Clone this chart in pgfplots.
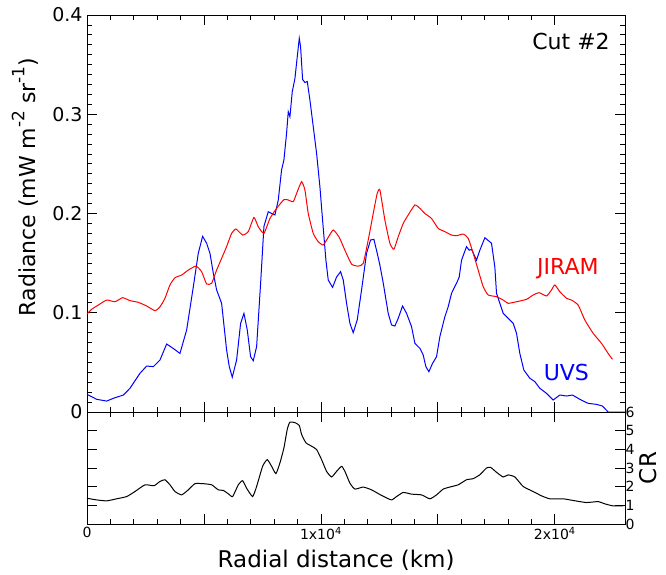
\documentclass[border=0pt]{standalone}
\usepackage{pgfplots}
\pgfplotsset{compat=1.18}
\usepackage{fontspec}
\setmainfont{DejaVu Sans}

\newcommand{\upexp}[1]{\raisebox{0.5em}{\fontsize{17}{17}\selectfont #1}}

\pgfplotsset{
  panel/.style={
    scale only axis, anchor=south west, width=538pt,
    xmin=0, xmax=23000, clip=false,
    scaled x ticks=false, scaled y ticks=false,
    axis line style={line width=0.9pt},
    every tick/.style={black, line width=0.8pt},
    major tick length=10pt, minor tick length=5pt,
    /pgf/number format/assume math mode=true,
  },
}

\begin{document}
\begin{tikzpicture}[x=1pt,y=1pt]
\path[use as bounding box] (0,0) rectangle (666,574);

% upper panel: radiance
\begin{axis}[panel,
  at={(87pt,162pt)}, height=397pt,
  ymin=0, ymax=0.4,
  xtick={0,5000,10000,15000,20000}, xticklabels={}, minor x tick num=4,
  ytick={0,0.1,0.2,0.3,0.4}, yticklabels={0,0.1,0.2,0.3,0.4},
  minor y tick num=9,
  yticklabel style={font=\fontsize{19}{21}\selectfont, xshift=-1pt},
]
\addplot[blue, line width=1pt] coordinates {(0,0.0178)(414,0.0128)(841,0.011)(1125,0.0138)(1553,0.0171)(1838,0.0239)(2265,0.039)(2550,0.0463)(2835,0.0457)(3120,0.0524)(3405,0.0685)(3690,0.064)(3974,0.059)(4260,0.0826)(4544,0.126)(4758,0.16)(4943,0.177)(5114,0.17)(5256,0.16)(5399,0.14)(5541,0.123)(5755,0.1095)(5968,0.0625)(6083,0.0457)(6211,0.035)(6396,0.0524)(6567,0.0893)(6709,0.0994)(6852,0.0826)(6994,0.0557)(7108,0.0517)(7251,0.0658)(7422,0.1297)(7564,0.187)(7749,0.2018)(7892,0.20)(8034,0.1985)(8177,0.2136)(8319,0.244)(8419,0.254)(8533,0.281)(8604,0.3026)(8675,0.2975)(8775,0.3227)(8889,0.336)(8989,0.358)(9075,0.3765)(9131,0.368)(9217,0.335)(9316,0.332)(9416,0.333)(9530,0.3144)(9672,0.2875)(9815,0.2606)(9957,0.227)(10071,0.1934)(10214,0.153)(10313,0.133)(10499,0.1256)(10670,0.136)(10840,0.1414)(10955,0.133)(11097,0.1095)(11239,0.0894)(11381,0.0799)(11552,0.0927)(11738,0.123)(11952,0.16)(12123,0.1733)(12265,0.174)(12407,0.16)(12521,0.148)(12664,0.13)(12877,0.0994)(13020,0.0877)(13162,0.0866)(13305,0.0944)(13490,0.1068)(13661,0.0994)(13875,0.086)(14017,0.0692)(14231,0.0641)(14373,0.0574)(14487,0.0457)(14615,0.0406)(14772,0.049)(14943,0.0557)(15085,0.0759)(15299,0.096)(15441,0.106)(15584,0.1196)(15798,0.1297)(15912,0.136)(16012,0.153)(16225,0.1666)(16339,0.163)(16439,0.1639)(16652,0.153)(16795,0.163)(17009,0.1756)(17293,0.17)(17436,0.146)(17507,0.1196)(17650,0.1095)(17792,0.0994)(18006,0.0944)(18219,0.0894)(18362,0.0793)(18504,0.059)(18675,0.0423)(18932,0.034)(19145,0.0306)(19359,0.0239)(19644,0.0188)(19929,0.0121)(20214,0.0171)(20499,0.0161)(20755,0.0171)(21068,0.0128)(21424,0.0087)(21781,0.0077)(22037,0.006)(22279,0)(23000,0)};
\addplot[red, line width=1pt, smooth, tension=0.3] coordinates {(0,0.0987)(200,0.1035)(485,0.1078)(841,0.1128)(1197,0.1111)(1525,0.1152)(1838,0.1122)(2194,0.1105)(2550,0.1068)(2906,0.1021)(3120,0.106)(3333,0.1146)(3547,0.128)(3761,0.1353)(4046,0.138)(4330,0.143)(4658,0.147)(4900,0.1414)(5114,0.129)(5328,0.1297)(5541,0.143)(5755,0.1548)(5968,0.1666)(6182,0.18)(6368,0.1844)(6652,0.1783)(6894,0.1817)(7137,0.196)(7322,0.1867)(7564,0.18)(7821,0.195)(8106,0.2052)(8419,0.214)(8604,0.2136)(8818,0.212)(8989,0.222)(9174,0.232)(9316,0.2237)(9459,0.2)(9672,0.18)(9886,0.1716)(10100,0.1683)(10313,0.176)(10527,0.1834)(10783,0.176)(11026,0.163)(11311,0.149)(11595,0.147)(11809,0.1498)(12023,0.1733)(12236,0.2)(12407,0.2203)(12521,0.2237)(12735,0.1934)(12949,0.17)(13120,0.164)(13305,0.1766)(13519,0.19)(13732,0.1985)(14017,0.2086)(14231,0.2052)(14444,0.2)(14729,0.195)(15014,0.185)(15299,0.1817)(15584,0.1783)(15798,0.1776)(16083,0.1793)(16296,0.175)(16510,0.16)(16724,0.143)(16937,0.1263)(17151,0.1179)(17507,0.1162)(17792,0.1128)(18006,0.1095)(18362,0.1111)(18789,0.1135)(19074,0.1179)(19330,0.1202)(19644,0.1169)(19858,0.123)(20000,0.128)(20214,0.1212)(20499,0.1146)(20712,0.1128)(20997,0.1078)(21282,0.0927)(21638,0.0793)(21994,0.0692)(22279,0.059)(22465,0.053)};
\node[anchor=north east, inner sep=0pt, font=\fontsize{22}{24}\selectfont] at (axis description cs:0.972,0.955) {Cut \#2};
\node[red, font=\fontsize{22}{24}\selectfont] at (axis cs:20556,0.144) {JIRAM};
\node[blue, font=\fontsize{22}{24}\selectfont] at (axis cs:20491,0.0403) {UVS};
\node[rotate=90, font=\fontsize{22}{24}\selectfont] at (axis description cs:-0.115,0.567) {Radiance (mW m\upexp{-2} sr\upexp{-1})};
\end{axis}

% lower panel: CR
\begin{axis}[panel,
  at={(87pt,50pt)}, height=112pt,
  ymin=0, ymax=6,
  xtick={0,5000,10000,15000,20000},
  xticklabels={0,,{1x10\textsuperscript{4}},,{2x10\textsuperscript{4}}},
  minor x tick num=4,
  ytick={0,1,2,3,4,5,6}, yticklabels={0,1,2,3,4,5,6},
  yticklabel pos=right, ytick pos=both,
  xticklabel style={font=\fontsize{14}{16}\selectfont},
  yticklabel style={font=\fontsize{14}{16}\selectfont, xshift=-3pt},
]
\addplot[black, line width=1pt, smooth, tension=0.3] coordinates {(0,1.38)(414,1.29)(841,1.24)(1268,1.35)(1696,1.47)(2051,1.74)(2479,2.1)(2863,2.05)(3120,2.28)(3333,2.37)(3547,2.1)(3761,1.74)(4046,1.56)(4330,1.83)(4615,2.16)(4972,2.16)(5328,2.1)(5612,1.83)(5826,1.8)(6040,1.62)(6225,1.47)(6467,2.1)(6652,2.32)(6823,1.92)(7080,1.47)(7251,2.01)(7507,3.09)(7706,3.45)(7892,3.09)(8077,2.7)(8248,3.27)(8419,4.08)(8561,5.07)(8675,5.46)(8889,5.43)(9075,5.28)(9174,4.8)(9359,4.35)(9601,4.17)(9815,3.99)(10028,3.45)(10242,2.82)(10456,2.52)(10670,2.82)(10883,3.09)(11026,2.82)(11239,2.19)(11453,1.87)(11809,1.98)(12165,1.83)(12521,1.58)(12735,1.44)(13020,1.29)(13234,1.47)(13519,1.69)(13875,1.6)(14302,1.56)(14658,1.35)(14943,1.56)(15228,1.87)(15513,1.98)(15869,2.1)(16225,2.37)(16510,2.43)(16795,2.64)(17080,3.0)(17251,3.04)(17507,2.77)(17792,2.52)(18006,2.63)(18291,2.52)(18647,2.01)(19074,1.74)(19430,1.51)(19786,1.35)(20356,1.35)(20783,1.26)(21353,1.15)(21852,1.2)(22137,1.08)(22493,0.97)(22920,0.97)};
\node[rotate=90, font=\fontsize{23}{25}\selectfont] at (axis description cs:1.043,0.5) {CR};
\node[font=\fontsize{23}{25}\selectfont] at (axis description cs:0.463,-0.32) {Radial distance (km)};
\end{axis}
\end{tikzpicture}
\end{document}
